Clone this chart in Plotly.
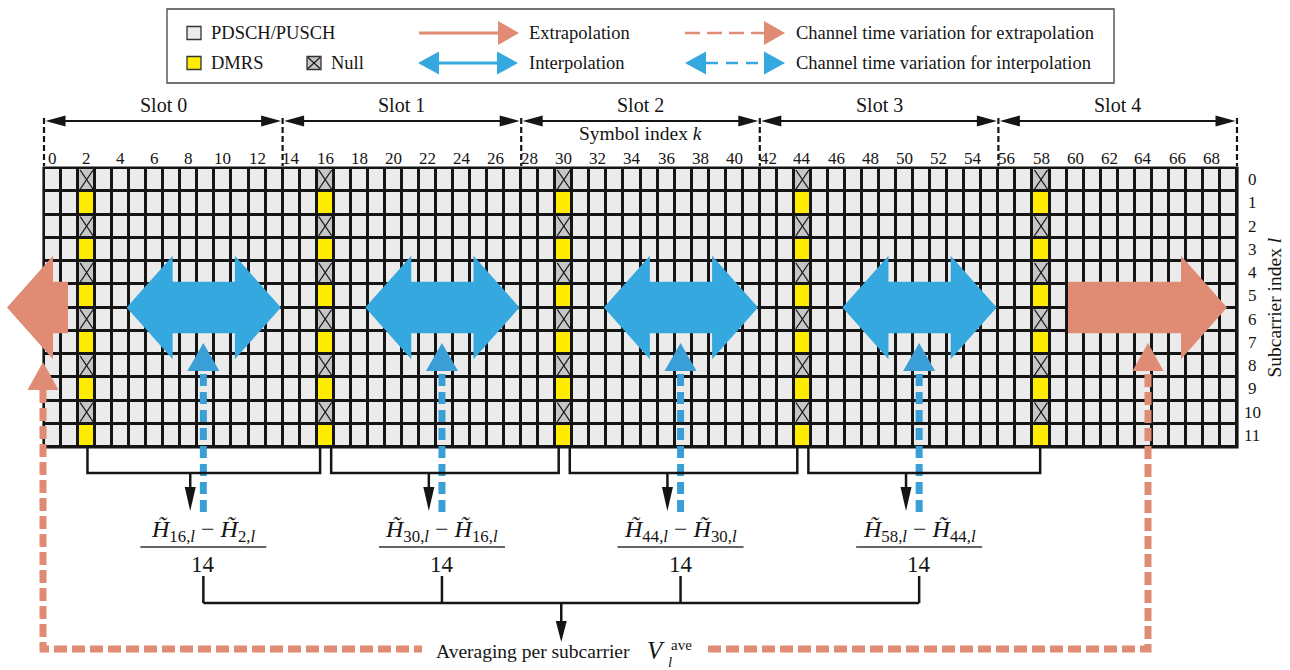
import plotly.graph_objects as go

# ---------------- data ----------------
N_COLS = 70
N_ROWS = 12
SLOT_LEN = 14
N_SLOTS = 5
DMRS_COLS = [2, 16, 30, 44, 58]
SLOT_LABELS = ["Slot 0", "Slot 1", "Slot 2", "Slot 3", "Slot 4"]
COL_TICKS = list(range(0, N_COLS, 2))
ROW_TICKS = list(range(N_ROWS))
LEGEND_CELLS = ["PDSCH/PUSCH", "DMRS", "Null"]
LEGEND_ARROWS = ["Extrapolation", "Interpolation",
                 "Channel time variation for extrapolation",
                 "Channel time variation for interpolation"]

# ---------------- geometry (page pixels -> axis units) ----------------
W, H = 1290, 670
GX0, GX1, GY0, GY1 = 44.0, 1237.0, 168.0, 447.0
CW = (GX1 - GX0) / N_COLS
RH = (GY1 - GY0) / N_ROWS


def X(px):
    return (px - GX0) / CW


def Y(py):
    return (py - GY0) / RH


def dx(p):
    return p / CW


def dy(p):
    return p / RH


BLACK = "#151515"
SALMON = "#e08b74"
BLUE = "#36a8e0"
BLUE_D = "#3a9fd6"
YELLOW = "#ffec00"
CELL = "#ebebeb"
NULLG = "#c6c6c6"
FONT = "Liberation Serif, Times New Roman, DejaVu Serif, serif"

# ---------------- grid cells ----------------
z = []
for r in ROW_TICKS:
    row = []
    for c in range(N_COLS):
        if c in DMRS_COLS:
            row.append(2 if r % 2 == 0 else 1)
        else:
            row.append(0)
    z.append(row)

fig = go.Figure()
fig.add_trace(go.Heatmap(
    z=z, x=[c + 0.5 for c in range(N_COLS)], y=[r + 0.5 for r in ROW_TICKS],
    colorscale=[[0, CELL], [0.33, CELL], [0.34, YELLOW], [0.66, YELLOW], [0.67, NULLG], [1, NULLG]],
    zmin=0, zmax=2, showscale=False, xgap=3, ygap=3, hoverinfo="skip"))

# X marks in null cells
xs, ys = [], []
ix, iy = dx(2.0), dy(2.0)
for c in DMRS_COLS:
    for r in ROW_TICKS:
        if r % 2 == 0:
            xs += [c + ix, c + 1 - ix, None, c + 1 - ix, c + ix, None]
            ys += [r + iy, r + 1 - iy, None, r + iy, r + 1 - iy, None]
fig.add_trace(go.Scatter(x=xs, y=ys, mode="lines", line=dict(color=BLACK, width=1.3),
                         hoverinfo="skip", showlegend=False))

shapes = []
ann = []


def poly(pts, color, layer="above"):
    p = "M " + " L ".join(f"{x:.4f},{y:.4f}" for x, y in pts) + " Z"
    shapes.append(dict(type="path", path=p, xref="x", yref="y", fillcolor=color,
                       line=dict(width=0), layer=layer))


def pline(pts, color, width, dash="solid"):
    p = "M " + " L ".join(f"{x:.4f},{y:.4f}" for x, y in pts)
    shapes.append(dict(type="path", path=p, xref="x", yref="y",
                       line=dict(color=color, width=width, dash=dash)))


def tri_h(tipx, y, direction, length_px, halfw_px, color):
    b = tipx - direction * dx(length_px)
    poly([(tipx, y), (b, y - dy(halfw_px)), (b, y + dy(halfw_px))], color)


def tri_v(x, tipy, direction, length_px, halfw_px, color):
    b = tipy - direction * dy(length_px)
    poly([(x, tipy), (x - dx(halfw_px), b), (x + dx(halfw_px), b)], color)


def text(x, y, s, size, xanchor="center", yanchor="middle", angle=0, color=BLACK, font=FONT):
    ann.append(dict(x=x, y=y, xref="x", yref="y", text=s, showarrow=False,
                    xanchor=xanchor, yanchor=yanchor, textangle=angle,
                    font=dict(family=font, size=size, color=color)))


# black backing for the grid lines
shapes.append(dict(type="rect", xref="x", yref="y", x0=X(GX0 - 1.6), x1=X(GX1 + 1.6),
                   y0=Y(GY0 - 1.6), y1=Y(GY1 + 1.6), fillcolor=BLACK,
                   line=dict(width=0), layer="below"))

# ---------------- slot brackets ----------------
ya = Y(121)
for s in range(N_SLOTS):
    x0, x1 = s * SLOT_LEN, (s + 1) * SLOT_LEN
    pline([(x0 + dx(10), ya), (x1 - dx(10), ya)], BLACK, 2.2)
    tri_h(x0 + dx(1.5), ya, -1, 20, 5.5, BLACK)
    tri_h(x1 - dx(1.5), ya, 1, 20, 5.5, BLACK)
    text((x0 + x1) / 2, Y(105), SLOT_LABELS[s], 20)
for b in range(N_SLOTS + 1):
    pline([(b * SLOT_LEN, Y(118)), (b * SLOT_LEN, Y(166))], BLACK, 2.2, "6px,3px")

text(N_COLS / 2, Y(133), "Symbol index <i>k</i>", 19.5)
for c in COL_TICKS:
    text(c + 0.5, Y(158), str(c), 17)
for r in ROW_TICKS:
    text(X(1252), r + 0.5, str(r), 17)
text(X(1274), N_ROWS / 2, "Subcarrier index <i>l</i>", 19.5, angle=-90)

# ---------------- big arrows ----------------
yc = N_ROWS / 2
sh, hh, hl = dy(25.8), dy(51.7), dx(46)
for i in range(len(DMRS_COLS) - 1):
    xl = DMRS_COLS[i] + 3 - 0.15
    xr = (i + 1) * SLOT_LEN - 0.1
    poly([(xl, yc), (xl + hl, yc - hh), (xl + hl, yc - sh), (xr - hl, yc - sh),
          (xr - hl, yc - hh), (xr, yc), (xr - hl, yc + hh), (xr - hl, yc + sh),
          (xl + hl, yc + sh), (xl + hl, yc + hh)], BLUE)


def single_arrow(xt, xp, color):
    s = 1 if xp > xt else -1
    xb = xp - s * hl
    poly([(xt, yc - sh), (xb, yc - sh), (xb, yc - hh), (xp, yc), (xb, yc + hh),
          (xb, yc + sh), (xt, yc + sh)], color)


single_arrow(X(1068), X(1227), SALMON)
single_arrow(X(68), X(7), SALMON)

# ---------------- interpolation-time dashed arrows ----------------
interp_x = [(DMRS_COLS[i] + DMRS_COLS[i + 1]) / 2 + 0.35 for i in range(len(DMRS_COLS) - 1)]
for i, xi in enumerate(interp_x):
    pline([(xi, Y(512)), (xi, Y(369))], BLUE_D, 7, "12px,6px")
    tri_v(xi, Y(343), -1, 28, 16, BLUE_D)

# black brackets below the grid
yb = Y(473)
for i in range(len(DMRS_COLS) - 1):
    left = DMRS_COLS[i] + (0.55 if i == 0 else 0.85)
    right = DMRS_COLS[i + 1] + (0.2 if i < len(DMRS_COLS) - 2 else 0.45)
    pline([(left, Y(GY1)), (left, yb), (right, yb), (right, Y(GY1))], BLACK, 2.5)
    xa = interp_x[i] - 0.77
    pline([(xa, yb), (xa, Y(490))], BLACK, 2.5)
    tri_v(xa, Y(511), 1, 24, 5.5, BLACK)

# ---------------- formulas ----------------
for i, xi in enumerate(interp_x):
    a, b = DMRS_COLS[i], DMRS_COLS[i + 1]
    num = (f"<i>H\u0303</i><sub>{b},<i>l</i></sub> \u2212 "
           f"<i>H\u0303</i><sub>{a},<i>l</i></sub>")
    text(xi, Y(531), num, 24)
    pline([(xi - dx(63), Y(547)), (xi + dx(63), Y(547))], "#333333", 1.5)
    text(xi, Y(564), str(b - a), 23)

# averaging bracket
yl = Y(603)
for xi in interp_x:
    pline([(xi, Y(576)), (xi, yl)], BLACK, 2.5)
pline([(interp_x[0], yl), (interp_x[-1], yl)], BLACK, 2.5)
xm = (interp_x[0] + interp_x[-1]) / 2
pline([(xm, yl), (xm, Y(624))], BLACK, 2.5)
tri_v(xm, Y(642), 1, 21, 5.5, BLACK)

text(X(434), Y(651), "Averaging per subcarrier", 19.5, xanchor="left")
text(X(645), Y(650), "<i>V</i>", 25, xanchor="left")
text(X(669), Y(645), "ave", 15, xanchor="left")
text(X(666), Y(662), "<i>l</i>", 15, xanchor="left")

# extrapolation-time dashed arrows
pline([(X(43), Y(390)), (X(43), Y(649)), (X(422), Y(649))], SALMON, 7, "13px,5px")
pline([(X(708), Y(649)), (X(1148), Y(649)), (X(1148), Y(372))], SALMON, 7, "13px,5px")
tri_v(X(43), Y(362), -1, 28, 15.5, SALMON)
tri_v(X(1148), Y(343), -1, 28, 15.5, SALMON)

# ---------------- legend ----------------
shapes.append(dict(type="rect", xref="x", yref="y", x0=X(167), x1=X(1114), y0=Y(9), y1=Y(83),
                   line=dict(color="#444444", width=1.3), fillcolor="rgba(0,0,0,0)"))
r1, r2 = Y(33), Y(63)


def lsquare(cx, cy, color, cross=False):
    shapes.append(dict(type="rect", xref="x", yref="y", x0=cx - dx(7), x1=cx + dx(7),
                       y0=cy - dy(6.5), y1=cy + dy(6.5), fillcolor=color,
                       line=dict(color="#333333", width=1.3)))
    if cross:
        pline([(cx - dx(6), cy - dy(5.5)), (cx + dx(6), cy + dy(5.5))], BLACK, 1.1)
        pline([(cx + dx(6), cy - dy(5.5)), (cx - dx(6), cy + dy(5.5))], BLACK, 1.1)


lsquare(X(194), r1, CELL)
lsquare(X(194), r2, YELLOW)
lsquare(X(314), r2, NULLG, cross=True)
text(X(209), r1, LEGEND_CELLS[0], 18.5, xanchor="left")
text(X(209), r2, LEGEND_CELLS[1], 18.5, xanchor="left")
text(X(329), r2, LEGEND_CELLS[2], 18.5, xanchor="left")

pline([(X(419), r1), (X(500), r1)], SALMON, 3)
tri_h(X(519), r1, 1, 21, 12, SALMON)
pline([(X(437), r2), (X(499), r2)], BLUE, 3)
tri_h(X(418), r2, -1, 21, 11.5, BLUE)
tri_h(X(518), r2, 1, 21, 11.5, BLUE)
text(X(527), r1, LEGEND_ARROWS[0], 18.5, xanchor="left")
text(X(527), r2, LEGEND_ARROWS[1], 18.5, xanchor="left")

pline([(X(685), r1), (X(765), r1)], SALMON, 2.5, "15px,7px")
tri_h(X(785), r1, 1, 21, 12, SALMON)
pline([(X(706), r2), (X(765), r2)], BLUE, 2.5, "12px,8px")
tri_h(X(685), r2, -1, 21, 11.5, BLUE)
tri_h(X(785), r2, 1, 21, 11.5, BLUE)
text(X(794), r1, LEGEND_ARROWS[2], 18.5, xanchor="left")
text(X(794), r2, LEGEND_ARROWS[3], 18.5, xanchor="left")

fig.update_layout(
    width=W, height=H, margin=dict(l=0, r=0, t=0, b=0),
    paper_bgcolor="white", plot_bgcolor="white", showlegend=False,
    font=dict(family=FONT),
    xaxis=dict(range=[X(0), X(W)], visible=False, fixedrange=True),
    yaxis=dict(range=[Y(H), Y(0)], visible=False, fixedrange=True),
    shapes=shapes, annotations=ann)

fig.write_html("out.html")
